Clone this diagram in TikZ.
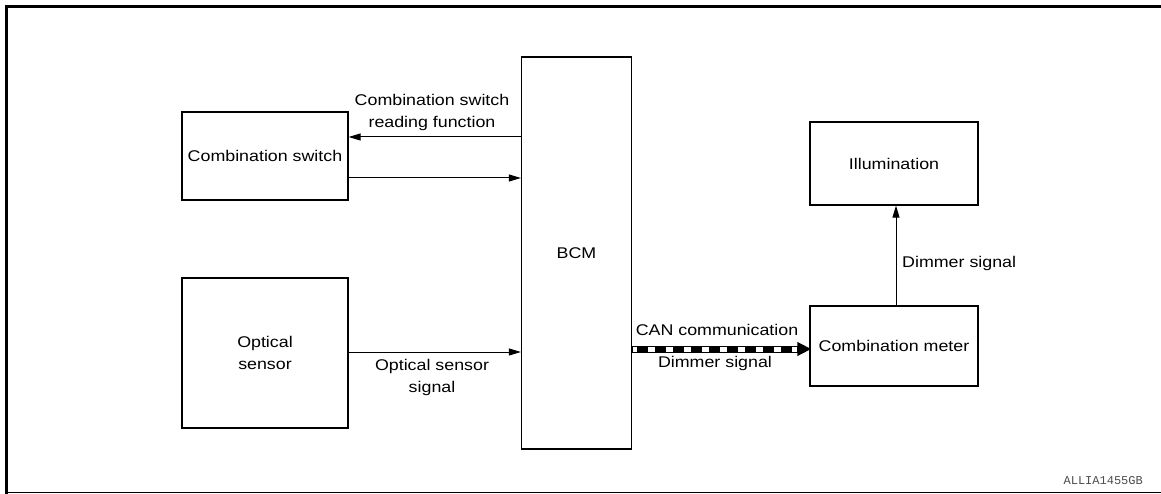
\documentclass[tikz,border=0pt]{standalone}
\usepackage{fontspec}
\setmainfont[FakeStretch=1.15]{Liberation Sans}
\newfontfamily\codefont{Liberation Mono}
\usetikzlibrary{arrows.meta}
\begin{document}
\begin{tikzpicture}[x=1pt,y=-1pt,
  every node/.style={font=\fontsize{15.5}{22}\selectfont, align=center, inner sep=0pt},
  block/.style={draw, line width=1.2pt, rectangle},
  sig/.style={line width=1pt, -{Triangle[length=12pt,width=7pt]}},
  lbl/.style={}]
  \useasboundingbox (0,0) rectangle (1161,494);

  % outer frame (open on the right)
  \draw[line width=3pt] (1161,6.5) -- (6.5,6.5) -- (6.5,494);
  \draw[line width=1pt] (5,492.5) -- (1161,492.5);

  % blocks
  \node[block, minimum width=166pt, minimum height=88pt] (cs) at (265,156) {Combination switch};
  \node[block, minimum width=166pt, minimum height=150pt] (os) at (265,353) {Optical\\sensor};
  \node[block, minimum width=110pt, minimum height=392pt] (bcm) at (576.5,253) {BCM};
  \node[block, minimum width=168pt, minimum height=83pt] (ill) at (894,163.5) {Illumination};
  \node[block, minimum width=168pt, minimum height=80pt] (cm) at (894,346) {Combination meter};

  % signal levels
  \coordinate (y1) at (0,137);
  \coordinate (y2) at (0,178);
  \coordinate (y3) at (0,352);
  \coordinate (y4) at (0,349);
  \coordinate (xv) at (896,0);

  % combination switch lines
  \draw[sig] (bcm.west |- y1) -- (cs.east |- y1);
  \draw[sig] (cs.east |- y2) -- (bcm.west |- y2);
  \node[lbl] (lcs) at (432,112) {Combination switch\\reading function};

  % optical sensor signal
  \draw[sig] (os.east |- y3) -- (bcm.west |- y3);
  \node[lbl] (los) at (432,377.5) {Optical sensor\\signal};

  % CAN communication line
  \draw[line width=7pt, -{Triangle[length=14pt,width=13pt]}, shorten >=-2pt] (bcm.east |- y4) -- (cm.west |- y4);
  \draw[line width=5pt, white, shorten <=1pt, shorten >=12pt] (bcm.east |- y4) -- (cm.west |- y4);
  \draw[line width=5pt, black, dash pattern=on 11pt off 7pt, dash phase=-4pt, shorten <=1pt, shorten >=12pt] (bcm.east |- y4) -- (cm.west |- y4);
  \node[lbl] (lcan) at (717,330) {CAN communication};
  \node[lbl] (ldim) at (715,363) {Dimmer signal};

  % dimmer signal to illumination
  \draw[sig] (cm.north -| xv) -- (ill.south -| xv);
  \node[lbl, anchor=west] (ldim2) at (902,263) {Dimmer signal};

  % drawing number
  \node[font=\codefont\fontsize{12}{12}\selectfont, text=black!70, anchor=east] (code) at (1143,481) {ALLIA1455GB};
\end{tikzpicture}
\end{document}
